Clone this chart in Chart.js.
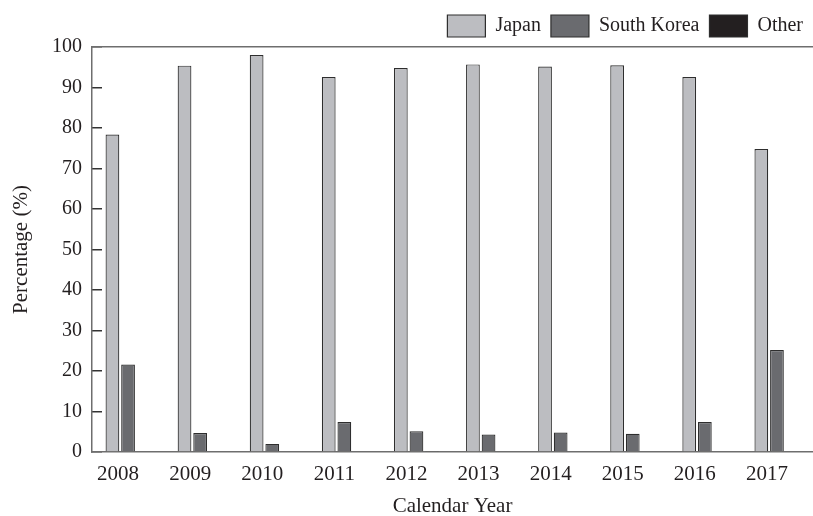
<!DOCTYPE html>
<html>
<head>
<meta charset="utf-8">
<style>
  html, body { margin: 0; padding: 0; background: #ffffff; }
  #wrap { width: 813px; height: 516px; }
</style>
<script src="https://cdn.jsdelivr.net/npm/chart.js@4/dist/chart.umd.min.js"></script>
</head>
<body>
<div id="wrap"><canvas id="chart" width="813" height="516"></canvas></div>
<script>
// Share of the market by country, per calendar year (%)
const years = ['2008', '2009', '2010', '2011', '2012', '2013', '2014', '2015', '2016', '2017'];
const japan = [78.4, 95.4, 98.0, 92.6, 94.8, 95.7, 95.2, 95.5, 92.6, 74.8];
const southKorea = [21.6, 4.7, 2.0, 7.4, 5.1, 4.3, 4.8, 4.5, 7.4, 25.2];
const other = [0, 0, 0, 0, 0.1, 0, 0, 0, 0, 0];
const seriesNames = ['Japan', 'South Korea', 'Other'];
const yMin = 0, yMax = 100, yStep = 10;

const FONT = 'Liberation Serif';
const INK = '#231F20';
const AXIS = '#6e6e6e';

const barStyle = {
  borderColor: '#2e2e2e',
  borderWidth: 1.2,
  borderSkipped: 'bottom',
  categoryPercentage: 0.65,
  barPercentage: 0.88
};

new Chart(document.getElementById('chart'), {
  type: 'bar',
  data: {
    labels: years,
    datasets: [
      Object.assign({ label: seriesNames[0], data: japan, backgroundColor: '#BCBDC1' }, barStyle),
      Object.assign({ label: seriesNames[1], data: southKorea, backgroundColor: '#6A6B6F' }, barStyle),
      Object.assign({ label: seriesNames[2], data: other, backgroundColor: INK }, barStyle)
    ]
  },
  options: {
    responsive: false,
    animation: false,
    layout: { padding: { top: 5, left: 0, right: 0, bottom: 0 } },
    plugins: {
      tooltip: { enabled: false },
      legend: {
        position: 'top',
        align: 'end',
        labels: {
          boxWidth: 38,
          boxHeight: 22,
          padding: 10,
          color: INK,
          font: { family: FONT, size: 20 }
        }
      }
    },
    scales: {
      x: {
        type: 'category',
        grid: { display: false, drawTicks: false },
        border: { display: true, color: AXIS, width: 1.5 },
        ticks: {
          color: INK,
          font: { family: FONT, size: 21 },
          padding: 10,
          labelOffset: -10,
          maxRotation: 0
        },
        title: {
          display: true,
          text: 'Calendar Year',
          color: INK,
          font: { family: FONT, size: 21 },
          padding: { top: 0, bottom: -3 }
        },
        afterFit: (scale) => { scale.height = 64; }
      },
      xTop: {
        type: 'category',
        position: 'top',
        grid: { display: false, drawTicks: false },
        border: { display: true, color: AXIS, width: 1.5 },
        ticks: { display: false },
        afterFit: (scale) => { scale.height = 0; }
      },
      y: {
        min: yMin,
        max: yMax,
        grid: {
          drawOnChartArea: false,
          drawTicks: true,
          tickLength: -10,
          tickColor: '#333333',
          lineWidth: 1.5
        },
        border: { display: true, color: AXIS, width: 1.5 },
        ticks: {
          stepSize: yStep,
          color: INK,
          font: { family: FONT, size: 20 },
          padding: 20
        },
        title: {
          display: true,
          text: 'Percentage (%)',
          color: INK,
          font: { family: FONT, size: 21 },
          padding: { top: 9, bottom: 0 }
        },
        afterFit: (scale) => { scale.width = 92; }
      }
    }
  }
});
</script>
</body>
</html>
